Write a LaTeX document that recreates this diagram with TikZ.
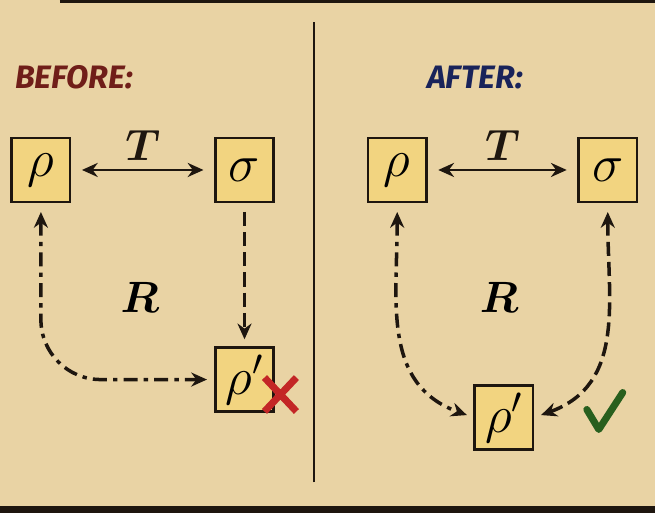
\RequirePackage{fix-cm}
\documentclass[tikz,border=0pt]{standalone}
\usepackage{amsmath}
\usepackage{fontspec}
\newfontfamily\headfont{Fira Sans}
\usetikzlibrary{arrows.meta}

\definecolor{paper}{RGB}{233,211,164}
\definecolor{boxfill}{RGB}{242,212,128}
\definecolor{beforered}{RGB}{112,30,25}
\definecolor{afterblue}{RGB}{25,35,90}
\definecolor{crossred}{RGB}{195,38,38}
\definecolor{tickgreen}{RGB}{40,95,30}
\definecolor{ink}{RGB}{30,22,15}

\begin{document}
\begin{tikzpicture}[x=0.02cm,y=0.02cm,
    state/.style={draw=ink,line width=1.5pt,fill=boxfill,minimum width=1.17cm,
      minimum height=1.28cm,inner sep=0pt,font=\fontsize{30}{30}\selectfont},
    lbl/.style={font=\fontsize{25}{25}\selectfont},
    head/.style={font=\headfont\fontsize{18.5}{19}\selectfont\bfseries\itshape},
    tipped/.style={{Stealth[length=9pt,width=8pt]}-{Stealth[length=9pt,width=8pt]}},
    linkdd/.style={ink,line width=2pt,tipped,shorten >=4pt,shorten <=5pt,
      dash pattern=on 8pt off 3.5pt on 2.5pt off 3.5pt},
    linkd/.style={ink,line width=2pt,shorten >=4pt,shorten <=5pt,
      dash pattern=on 8pt off 3.5pt}]
  % paper and frame
  \fill[paper] (0,0) rectangle (656,514);
  \draw[ink,line width=1.5pt] (60,513) -- (656,513);
  \fill[ink] (0,0) rectangle (656,7);
  \draw[ink,line width=1.2pt] (315,31) -- (315,492);

  % before
  \node[head,text=beforered,anchor=west] (before) at (9,437) {BEFORE:};
  \node[state] (r1) at (41,344) {$\rho$};
  \node[state] (s1) at (245,344) {$\sigma$};
  \node[state] (rp1) at (245,134) {$\rho'$};
  \node[lbl] (R1) at (140,216) {$\boldsymbol{R}$};
  \draw[ink,line width=1.6pt,tipped,shorten >=6pt,shorten <=6pt]
    (r1.east) -- node[lbl,above=1pt] (T1) {$\boldsymbol{T}$} (s1.west);
  \draw[linkdd,rounded corners=1.2cm] (r1.south) |- (rp1.west);
  \draw[linkd,-{Stealth[length=9pt,width=8pt]}] (s1.south) -- (rp1.north);
  \draw[crossred,line width=4pt] (265,102) -- (297,136) (265,136) -- (297,102);

  % after
  \node[head,text=afterblue] (after) at (476,437) {AFTER:};
  \node[state] (r2) at (398,344) {$\rho$};
  \node[state] (s2) at (609,344) {$\sigma$};
  \node[state] (rp2) at (505,96) {$\rho'$};
  \node[lbl] (R2) at (500,216) {$\boldsymbol{R}$};
  \draw[ink,line width=1.6pt,tipped,shorten >=6pt,shorten <=6pt]
    (r2.east) -- node[lbl,above=1pt] (T2) {$\boldsymbol{T}$} (s2.west);
  \draw[linkdd] (r2.south) to[out=-90,in=160,looseness=1.1] (rp2.west);
  \draw[linkd,tipped] (s2.south) to[out=-90,in=20,looseness=1.1] (rp2.east);
  \draw[tickgreen,line width=4pt,line cap=round,line join=round]
    (588,104) -- (600,84) -- (624,121);
\end{tikzpicture}
\end{document}
